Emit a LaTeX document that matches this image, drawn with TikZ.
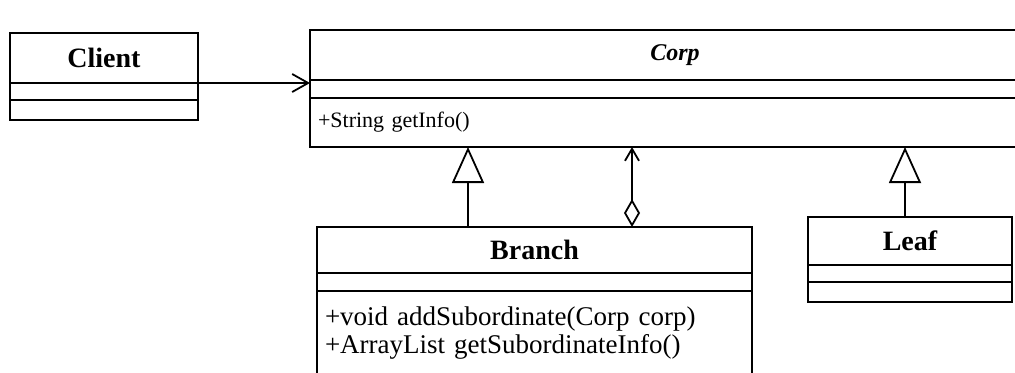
\documentclass[tikz,border=0pt]{standalone}
\usepackage{fontspec}
\setmainfont{Liberation Serif}
\usetikzlibrary{arrows.meta,positioning}
\tikzset{
  classname/.style={draw=black, line width=0.9pt, inner sep=0pt, outer sep=0pt, font=\fontsize{14}{16}\selectfont\bfseries},
  compart/.style={draw=black, line width=0.9pt, inner sep=0pt, outer sep=0pt},
  opsbox/.style={draw=black, line width=0.9pt, inner ysep=0pt, inner xsep=4pt, outer sep=0pt, align=left},
  assoc/.style={-{Straight Barb[length=8pt,width=9pt]}, line width=0.9pt},
  inherit/.style={-{Triangle[open,length=18pt,width=16pt]}, line width=0.9pt},
  aggr/.style={{Diamond[open,length=14pt,width=8pt]}-{Straight Barb[length=6pt,width=7pt]}, line width=0.9pt}
}

\begin{document}
\begin{tikzpicture}[x=0.5pt,y=-0.5pt]
\clip (0,0) rectangle (1015,372);
% Client
\node[classname, minimum width=94pt, minimum height=25pt] (client) at (104,58) {Client};
\node[compart, minimum width=94pt, minimum height=8.5pt, below=0pt of client] (clientattr) {};
\node[compart, minimum width=94pt, minimum height=10pt, below=0pt of clientattr] (clientops) {};
% Corp
\node[classname, font=\fontsize{12}{14}\selectfont\bfseries\itshape, minimum width=365pt, minimum height=25pt] (corp) at (675,55) {Corp};
\node[compart, minimum width=365pt, minimum height=9pt, below=0pt of corp] (corpattr) {};
\node[opsbox, minimum width=365pt, minimum height=24.5pt, text width=357pt, font=\fontsize{11}{13}\selectfont, below=0pt of corpattr] (corpops) {+String getInfo()};
% Branch
\node[classname, minimum width=217.5pt, minimum height=23pt] (branch) at (534.5,250) {Branch};
\node[compart, minimum width=217.5pt, minimum height=9pt, below=0pt of branch] (branchattr) {};
\node[opsbox, minimum width=217.5pt, minimum height=42pt, text width=209.5pt, font=\fontsize{13.5}{14}\selectfont, below=0pt of branchattr] (branchops) {+void addSubordinate(Corp corp)\\+ArrayList getSubordinateInfo()};
% Leaf
\node[classname, minimum width=102pt, minimum height=24pt] (leaf) at (910,241) {Leaf};
\node[compart, minimum width=102pt, minimum height=8.5pt, below=0pt of leaf] (leafattr) {};
\node[compart, minimum width=102pt, minimum height=10pt, below=0pt of leafattr] (leafops) {};
% relations
\draw[assoc] (client.south east) -- (client.south east -| corp.west);
\draw[inherit] ([xshift=-33.25pt]branch.north) -- ([xshift=-33.25pt]branch.north |- corpops.south);
\draw[aggr] ([xshift=48.75pt]branch.north) -- ([xshift=48.75pt]branch.north |- corpops.south);
\draw[inherit] ([xshift=-2.5pt]leaf.north) -- ([xshift=-2.5pt]leaf.north |- corpops.south);
\end{tikzpicture}
\end{document}
